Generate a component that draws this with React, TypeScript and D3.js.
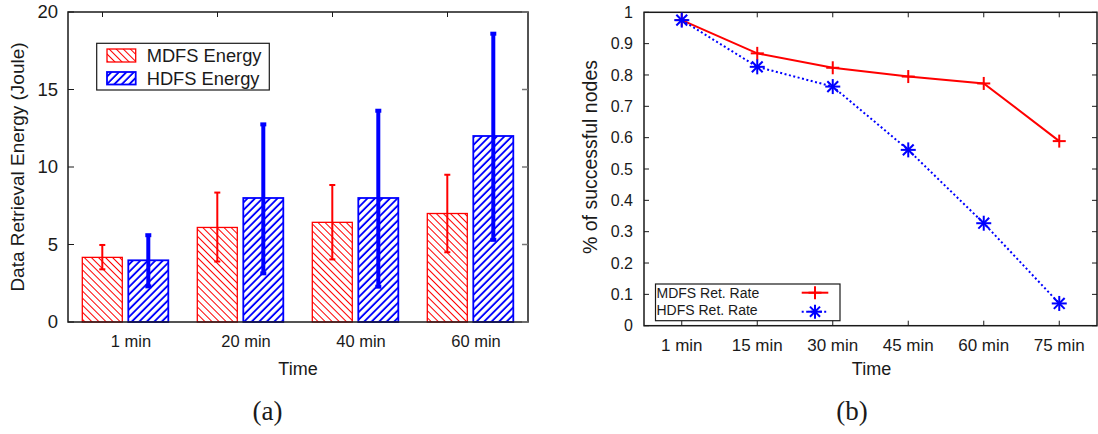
import * as d3 from "d3";

const energyCategories = ["1 min", "20 min", "40 min", "60 min"];
const mdfsEnergy = [4.17, 6.1, 6.43, 7.0];
const mdfsLow = [3.4, 3.9, 4.04, 4.5];
const mdfsHigh = [4.97, 8.35, 8.84, 9.5];
const hdfsEnergy = [3.98, 8.0, 8.0, 12.0];
const hdfsLow = [2.3, 3.14, 2.28, 5.3];
const hdfsHigh = [5.6, 12.75, 13.63, 18.6];
const energyTicks = [0, 5, 10, 15, 20];

const rateCategories = ["1 min", "15 min", "30 min", "45 min", "60 min", "75 min"];
const mdfsRate = [0.975, 0.869, 0.823, 0.795, 0.773, 0.589];
const hdfsRate = [0.975, 0.826, 0.763, 0.561, 0.327, 0.071];
const rateTicks = [0, 0.1, 0.2, 0.3, 0.4, 0.5, 0.6, 0.7, 0.8, 0.9, 1];

const SANS = "'Liberation Sans', Arial, sans-serif";
const INK = "#1a1a1a";

// left panel geometry
const L = { left: 68, right: 528, top: 12, bottom: 322 };
// right panel geometry
const R = { left: 644, right: 1097, top: 12.3, bottom: 325.7 };

const Plus = ({ x, y, s = 6.5 }) => (
  <g stroke="#ff0000" strokeWidth={2}>
    <line x1={x - s} x2={x + s} y1={y} y2={y} />
    <line x1={x} x2={x} y1={y - s} y2={y + s} />
  </g>
);

const Star = ({ x, y, s = 7.5 }) => {
  const d = s * 0.72;
  return (
    <g stroke="#0000ff" strokeWidth={2}>
      <line x1={x - s} x2={x + s} y1={y} y2={y} />
      <line x1={x} x2={x} y1={y - s} y2={y + s} />
      <line x1={x - d} x2={x + d} y1={y - d} y2={y + d} />
      <line x1={x - d} x2={x + d} y1={y + d} y2={y - d} />
    </g>
  );
};

const EnergyChart = () => {
  const y = d3.scaleLinear().domain([0, 20]).range([L.bottom, L.top]);
  const x0 = d3.scaleBand().domain(energyCategories).range([L.left, L.right]);
  const x1 = d3
    .scaleBand()
    .domain(["MDFS", "HDFS"])
    .range([14.3, 100.3])
    .paddingInner(0.1304);

  const series = [
    { key: "MDFS", values: mdfsEnergy, lo: mdfsLow, hi: mdfsHigh, color: "#ff0000", pat: "url(#hatchRed)", bw: 1.3, ew: 2 },
    { key: "HDFS", values: hdfsEnergy, lo: hdfsLow, hi: hdfsHigh, color: "#0000ff", pat: "url(#hatchBlue)", bw: 1.8, ew: 4 },
  ];

  return (
    <g fontFamily={SANS} fill={INK}>
      {series.map((s) =>
        energyCategories.map((c, i) => {
          const bx = x0(c) + x1(s.key);
          const cx = bx + x1.bandwidth() / 2;
          return (
            <g key={s.key + c}>
              <rect
                x={bx}
                y={y(s.values[i])}
                width={x1.bandwidth()}
                height={y(0) - y(s.values[i])}
                fill={s.pat}
                stroke={s.color}
                strokeWidth={s.bw}
              />
              <g stroke={s.color} strokeWidth={s.ew}>
                <line x1={cx} x2={cx} y1={y(s.lo[i])} y2={y(s.hi[i])} />
                <line x1={cx - 3} x2={cx + 3} y1={y(s.hi[i])} y2={y(s.hi[i])} />
                <line x1={cx - 3} x2={cx + 3} y1={y(s.lo[i])} y2={y(s.lo[i])} />
              </g>
            </g>
          );
        })
      )}

      {/* frame */}
      <rect
        x={L.left}
        y={L.top}
        width={L.right - L.left}
        height={L.bottom - L.top}
        fill="none"
        stroke={INK}
        strokeWidth={1.5}
      />
      {energyTicks.map((t) => (
        <g key={t}>
          <line x1={L.left} x2={L.left + 6} y1={y(t)} y2={y(t)} stroke={INK} />
          <line x1={L.right} x2={L.right - 6} y1={y(t)} y2={y(t)} stroke="#777" strokeWidth={1.5} />
          <text x={L.left - 10} y={y(t)} dy="0.35em" textAnchor="end" fontSize={18.5}>
            {t}
          </text>
        </g>
      ))}
      {energyCategories.map((c) => (
        <g key={c}>
          <line
            x1={x0(c) + 34.5}
            x2={x0(c) + 34.5}
            y1={L.top}
            y2={L.top + 5}
            stroke={INK}
          />
          <text x={x0(c) + 63} y={346.5} textAnchor="middle" fontSize={16.5}>
            {c}
          </text>
        </g>
      ))}
      <text x={298} y={375} textAnchor="middle" fontSize={18}>
        Time
      </text>
      <text
        transform={`translate(24,${(L.top + L.bottom) / 2}) rotate(-90)`}
        textAnchor="middle"
        fontSize={19}
      >
        Data Retrieval Energy (Joule)
      </text>

      {/* legend */}
      <rect x={96.7} y={43.3} width={172.6} height={46.7} fill="#fff" stroke={INK} strokeWidth={1.2} />
      <rect x={107} y={49} width={28.7} height={13} fill="url(#hatchRed)" stroke="#ff0000" strokeWidth={1.3} />
      <rect x={107} y={72} width={28.7} height={12.5} fill="url(#hatchBlue)" stroke="#0000ff" strokeWidth={1.8} />
      <text x={146.7} y={61.7} fontSize={18.3}>
        MDFS Energy
      </text>
      <text x={146.7} y={85} fontSize={18.3}>
        HDFS Energy
      </text>
    </g>
  );
};

const RateChart = () => {
  const x = d3
    .scalePoint()
    .domain(rateCategories)
    .range([R.left, R.right])
    .padding(0.5);
  const y = d3.scaleLinear().domain([0, 1]).range([R.bottom, R.top]);

  const line = d3
    .line()
    .x((d) => x(d[0]))
    .y((d) => y(d[1]));

  const mdfsPts = rateCategories.map((c, i) => [c, mdfsRate[i]]);
  const hdfsPts = rateCategories.map((c, i) => [c, hdfsRate[i]]);

  return (
    <g fontFamily={SANS} fill={INK}>
      <rect
        x={R.left}
        y={R.top}
        width={R.right - R.left}
        height={R.bottom - R.top}
        fill="none"
        stroke={INK}
        strokeWidth={1.5}
      />
      {rateTicks.map((t) => (
        <g key={t}>
          <line x1={R.left} x2={R.left + 5} y1={y(t)} y2={y(t)} stroke={INK} />
          <line x1={R.right} x2={R.right - 5} y1={y(t)} y2={y(t)} stroke={INK} />
          <text x={633} y={y(t)} dy="0.35em" textAnchor="end" fontSize={16}>
            {t === 0 || t === 1 ? t : t.toFixed(1)}
          </text>
        </g>
      ))}
      {rateCategories.map((c) => (
        <g key={c}>
          <line x1={x(c)} x2={x(c)} y1={R.top} y2={R.top + 5} stroke={INK} />
          <line x1={x(c)} x2={x(c)} y1={R.bottom} y2={R.bottom - 5} stroke={INK} />
          <text x={x(c)} y={350.5} textAnchor="middle" fontSize={17}>
            {c}
          </text>
        </g>
      ))}
      <text x={871.5} y={375} textAnchor="middle" fontSize={18}>
        Time
      </text>
      <text
        transform={`translate(597,${(R.top + R.bottom) / 2 - 12}) rotate(-90)`}
        textAnchor="middle"
        fontSize={19.5}
      >
        % of successful nodes
      </text>

      <path d={line(mdfsPts)} fill="none" stroke="#ff0000" strokeWidth={2} />
      <path
        d={line(hdfsPts)}
        fill="none"
        stroke="#0000ff"
        strokeWidth={2}
        strokeDasharray="2,2.5"
      />
      {mdfsPts.map((p) => (
        <Plus key={"m" + p[0]} x={x(p[0])} y={y(p[1])} />
      ))}
      {hdfsPts.map((p) => (
        <Star key={"h" + p[0]} x={x(p[0])} y={y(p[1])} />
      ))}

      {/* legend */}
      <rect x={655.5} y={284} width={184.5} height={36.7} fill="#fff" stroke={INK} strokeWidth={1.2} />
      <text x={656.5} y={298.3} fontSize={14}>
        MDFS Ret. Rate
      </text>
      <text x={656.5} y={315} fontSize={14}>
        HDFS Ret. Rate
      </text>
      <line x1={801.7} x2={828.3} y1={292.7} y2={292.7} stroke="#ff0000" strokeWidth={2} />
      <Plus x={815} y={292.7} />
      <line
        x1={801.7}
        x2={828.3}
        y1={311.7}
        y2={311.7}
        stroke="#0000ff"
        strokeWidth={2}
        strokeDasharray="2,2.5"
      />
      <Star x={815} y={311.7} s={7} />
    </g>
  );
};

export default function App() {
  return (
    <svg
      width={1098}
      height={434}
      style={{ position: "absolute", left: 0, top: 0, background: "#fff" }}
    >
      <defs>
        <pattern
          id="hatchRed"
          patternUnits="userSpaceOnUse"
          width={5}
          height={10}
          patternTransform="rotate(-45)"
        >
          <rect width={5} height={10} fill="#fff" />
          <line x1={2.5} x2={2.5} y1={0} y2={10} stroke="#ff0000" strokeWidth={1} />
        </pattern>
        <pattern
          id="hatchBlue"
          patternUnits="userSpaceOnUse"
          width={5.3}
          height={10}
          patternTransform="rotate(45)"
        >
          <rect width={5.3} height={10} fill="#fff" />
          <line x1={2.6} x2={2.6} y1={0} y2={10} stroke="#0000ff" strokeWidth={1.9} />
        </pattern>
      </defs>
      <EnergyChart />
      <RateChart />
      <g fontFamily="'Liberation Serif', 'DejaVu Serif', serif" fontSize={27} fill={INK}>
        <text x={267.5} y={420} textAnchor="middle">
          (a)
        </text>
        <text x={852} y={420} textAnchor="middle">
          (b)
        </text>
      </g>
    </svg>
  );
}
